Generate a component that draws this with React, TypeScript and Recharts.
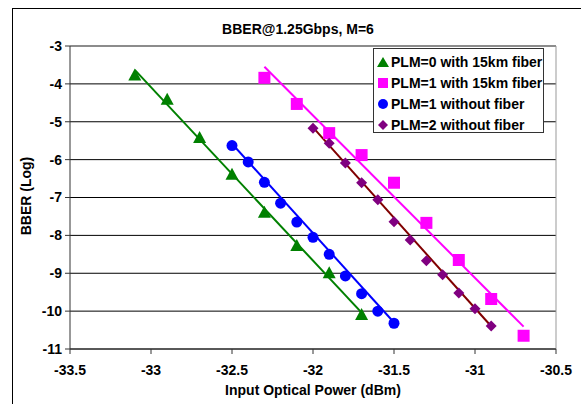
import {
  CartesianGrid,
  Legend,
  ReferenceLine,
  Scatter,
  ScatterChart,
  XAxis,
  YAxis,
} from "recharts";

const xTicks = [-33.5, -33, -32.5, -32, -31.5, -31, -30.5];
const yTicks = [-3, -4, -5, -6, -7, -8, -9, -10, -11];

const seriesNames = [
  "PLM=0 with 15km fiber",
  "PLM=1 with 15km fiber",
  "PLM=1 without fiber",
  "PLM=2 without fiber",
];

const greenX = [-33.1, -32.9, -32.7, -32.5, -32.3, -32.1, -31.9, -31.7];
const greenY = [-3.78, -4.42, -5.43, -6.4, -7.4, -8.28, -9.0, -10.1];

const magentaX = [-32.3, -32.1, -31.9, -31.7, -31.5, -31.3, -31.1, -30.9, -30.7];
const magentaY = [-3.84, -4.53, -5.3, -5.88, -6.61, -7.67, -8.65, -9.68, -10.65];

const blueX = [-32.5, -32.4, -32.3, -32.2, -32.1, -32.0, -31.9, -31.8, -31.7, -31.6, -31.5];
const blueY = [-5.63, -6.06, -6.6, -7.15, -7.65, -8.05, -8.5, -9.07, -9.54, -10.0, -10.32];

const purpleX = [-32.0, -31.9, -31.8, -31.7, -31.6, -31.5, -31.4, -31.3, -31.2, -31.1, -31.0, -30.9];
const purpleY = [-5.17, -5.57, -6.09, -6.61, -7.06, -7.64, -8.12, -8.67, -9.04, -9.52, -9.94, -10.39];

// trendline end points
const greenFitX = [-33.1, -31.7];
const greenFitY = [-3.63, -10.04];
const magentaFitX = [-32.3, -30.7];
const magentaFitY = [-3.55, -10.41];
const blueFitX = [-32.5, -31.5];
const blueFitY = [-5.58, -10.3];
const redFitX = [-32.0, -30.9];
const redFitY = [-5.15, -10.4];

const toPoints = (xs: number[], ys: number[]) => xs.map((x, i) => ({ x, y: ys[i] }));

const FONT = '"Liberation Sans", Arial, sans-serif';

const Triangle = (p: any) => (
  <polygon
    points={`${p.cx},${p.cy - 7} ${p.cx + 6.5},${p.cy + 5} ${p.cx - 6.5},${p.cy + 5}`}
    fill="#008000"
  />
);
const Square = (p: any) => <rect x={p.cx - 6} y={p.cy - 6} width={12} height={12} fill="#FF00FF" />;
const Dot = (p: any) => <circle cx={p.cx} cy={p.cy} r={5.5} fill="#0000FF" />;
const Diamond = (p: any) => (
  <polygon
    points={`${p.cx},${p.cy - 5.5} ${p.cx + 5.5},${p.cy} ${p.cx},${p.cy + 5.5} ${p.cx - 5.5},${p.cy}`}
    fill="#800080"
  />
);
const NoMark = () => <g />;

const legendIcons = [
  <polygon key="t" points="6,1 12,11 0,11" fill="#008000" />,
  <rect key="s" x={1} y={1} width={10} height={10} fill="#FF00FF" />,
  <circle key="c" cx={6} cy={6} r={5} fill="#0000FF" />,
  <polygon key="d" points="6,1 11,6 6,11 1,6" fill="#800080" />,
];

function LegendBox() {
  return (
    <div
      style={{
        width: 171,
        height: 85,
        border: "1px solid #333",
        background: "#fff",
        fontFamily: FONT,
        fontWeight: "bold",
        fontSize: 14,
        boxSizing: "border-box",
        paddingTop: 2,
      }}
    >
      {seriesNames.map((name, i) => (
        <div key={name} style={{ display: "flex", alignItems: "center", height: 21, whiteSpace: "nowrap" }}>
          <svg width={12} height={12} style={{ marginLeft: 3, marginRight: 2 }}>
            {legendIcons[i]}
          </svg>
          <span>{name}</span>
        </div>
      ))}
    </div>
  );
}

export default function App() {
  const tickStyle = { fill: "#000", fontSize: 14, fontWeight: "bold", fontFamily: FONT };
  return (
    <div style={{ position: "absolute", left: 0, top: 0, width: 581, height: 404, overflow: "hidden", background: "#fff" }}>
      <div
        style={{
          position: "absolute",
          left: 12,
          top: 8,
          width: 600,
          height: 420,
          borderLeft: "1px solid #000",
          borderTop: "1px solid #000",
        }}
      />
      <div
        style={{
          position: "absolute",
          left: 12,
          width: 572,
          top: 21,
          textAlign: "center",
          fontFamily: FONT,
          fontWeight: "bold",
          fontSize: 14,
        }}
      >
        BBER@1.25Gbps, M=6
      </div>
      <div
        style={{
          position: "absolute",
          left: 70,
          width: 486,
          top: 382,
          textAlign: "center",
          fontFamily: FONT,
          fontWeight: "bold",
          fontSize: 14,
        }}
      >
        Input Optical Power (dBm)
      </div>
      <div
        style={{
          position: "absolute",
          left: 26 - 60,
          top: 197 - 9,
          width: 120,
          textAlign: "center",
          transform: "rotate(-90deg)",
          fontFamily: FONT,
          fontWeight: "bold",
          fontSize: 14,
        }}
      >
        BBER (Log)
      </div>
      <div style={{ position: "absolute", left: 0, top: 0 }}>
        <ScatterChart width={581} height={404} margin={{ top: 46, right: 25, bottom: 0, left: 0 }}>
          <CartesianGrid vertical={false} stroke="#000" strokeWidth={1} />
          <XAxis
            type="number"
            dataKey="x"
            domain={[-33.5, -30.5]}
            ticks={xTicks}
            allowDataOverflow
            height={55}
            tickSize={5}
            tickMargin={11}
            tick={tickStyle}
            axisLine={{ stroke: "#333" }}
            tickLine={{ stroke: "#333" }}
          />
          <YAxis
            type="number"
            dataKey="y"
            domain={[-11, -3]}
            ticks={yTicks}
            allowDataOverflow
            width={70}
            tickSize={5}
            tickMargin={3}
            tick={tickStyle}
            axisLine={{ stroke: "#333" }}
            tickLine={{ stroke: "#333" }}
          />
          <ReferenceLine y={-3} stroke="#999" />
          <ReferenceLine x={-30.5} stroke="#999" />
          <Scatter data={toPoints(greenFitX, greenFitY)} line={{ stroke: "#008000", strokeWidth: 2 }} shape={NoMark} legendType="none" isAnimationActive={false} />
          <Scatter data={toPoints(magentaFitX, magentaFitY)} line={{ stroke: "#FF00FF", strokeWidth: 2 }} shape={NoMark} legendType="none" isAnimationActive={false} />
          <Scatter data={toPoints(blueFitX, blueFitY)} line={{ stroke: "#0000FF", strokeWidth: 2 }} shape={NoMark} legendType="none" isAnimationActive={false} />
          <Scatter data={toPoints(redFitX, redFitY)} line={{ stroke: "#800000", strokeWidth: 2 }} shape={NoMark} legendType="none" isAnimationActive={false} />
          <Scatter name={seriesNames[0]} data={toPoints(greenX, greenY)} shape={Triangle} isAnimationActive={false} />
          <Scatter name={seriesNames[1]} data={toPoints(magentaX, magentaY)} shape={Square} isAnimationActive={false} />
          <Scatter name={seriesNames[2]} data={toPoints(blueX, blueY)} shape={Dot} isAnimationActive={false} />
          <Scatter name={seriesNames[3]} data={toPoints(purpleX, purpleY)} shape={Diamond} isAnimationActive={false} />
          <Legend
            layout="horizontal"
            verticalAlign="middle"
            align="center"
            content={() => <LegendBox />}
            wrapperStyle={{ position: "absolute", left: 373, top: 48, width: 171, height: 85 }}
          />
        </ScatterChart>
      </div>
    </div>
  );
}
